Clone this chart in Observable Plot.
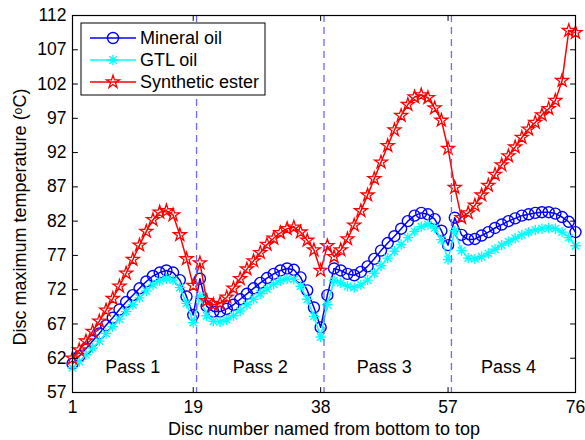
<!DOCTYPE html>
<html><head><meta charset="utf-8">
<script src="https://cdn.jsdelivr.net/npm/d3@7"></script>
<script src="https://cdn.jsdelivr.net/npm/@observablehq/plot@0.6"></script>
<style>body{margin:0;background:#fff} #chart{width:585px;height:440px}</style>
</head><body><div id="chart"></div>
<script>
const discs = d3.range(1, 77);
const mineralOil = [
  61.2, 62.3, 63.4, 64.5, 65.6, 66.8, 67.9, 69.1, 70.2, 71.2, 72.2, 73.2, 74.0, 74.5, 74.8, 74.5, 73.4, 71.0, 68.3,
  73.6, 69.6, 68.8, 68.8, 69.2, 69.8, 70.6, 71.4, 72.2, 73.0, 73.7, 74.3, 74.8, 75.1, 74.9, 73.8, 71.9, 69.4, 66.5,
  71.2, 75.1, 74.8, 74.3, 74.1, 74.6, 75.4, 76.5, 77.7, 78.8, 79.8, 80.9, 82.0, 82.8, 83.2, 83.0, 82.3, 80.6, 78.5,
  82.5, 80.0, 79.3, 79.4, 79.9, 80.4, 81.0, 81.5, 82.0, 82.4, 82.8, 83.0, 83.2, 83.3, 83.3, 83.1, 82.6, 81.9, 80.4
];
const gtlOil = [
  60.6, 61.5, 62.5, 63.5, 64.5, 65.6, 66.6, 67.7, 68.8, 69.8, 70.8, 71.8, 72.7, 73.3, 73.6, 73.4, 72.3, 70.0, 67.2,
  71.0, 68.2, 67.4, 67.3, 67.6, 68.2, 68.9, 69.8, 70.6, 71.4, 72.1, 72.8, 73.3, 73.6, 73.5, 72.5, 70.6, 68.1, 65.1,
  69.8, 73.3, 73.0, 72.5, 72.3, 72.7, 73.4, 74.4, 75.5, 76.6, 77.6, 78.6, 79.6, 80.5, 81.2, 81.5, 81.0, 79.3, 76.4,
  80.6, 77.7, 76.6, 76.5, 76.8, 77.3, 77.9, 78.5, 79.0, 79.5, 80.0, 80.4, 80.7, 80.9, 81.0, 80.9, 80.4, 79.6, 78.4
];
const syntheticEster = [
  62.0, 63.2, 64.5, 65.9, 67.4, 69.0, 70.7, 72.5, 74.4, 76.4, 78.5, 80.5, 82.2, 83.3, 83.5, 82.9, 80.0, 76.5, 72.6,
  75.9, 70.4, 69.8, 70.0, 70.9, 72.2, 73.6, 75.0, 76.2, 77.4, 78.6, 79.5, 80.3, 80.9, 81.1, 80.4, 79.2, 77.8, 74.8,
  78.4, 76.8, 77.8, 79.4, 81.4, 83.5, 85.8, 88.2, 90.6, 93.0, 95.3, 97.4, 99.0, 100.1, 100.4, 100.0, 98.5, 96.7, 92.6,
  86.9, 82.5, 83.2, 84.3, 85.8, 87.2, 88.8, 90.2, 91.5, 92.8, 94.2, 95.4, 96.4, 97.5, 98.4, 99.6, 102.5, 109.8, 109.5
];
const seriesNames = ["Mineral oil", "GTL oil", "Synthetic ester"];
const seriesColors = ["#0000ff", "#00ffff", "#ff0000"];
const passBoundaries = [19.5, 38.5, 57.5];
const passLabels = ["Pass 1", "Pass 2", "Pass 3", "Pass 4"];
const passLabelX = [10, 29, 47.5, 66];
const xTicks = [1, 19, 38, 57, 76];
const yTicks = [57, 62, 67, 72, 77, 82, 87, 92, 97, 102, 107, 112];
const xLabel = "Disc number named from bottom to top";
const yLabel = "Disc maximum temperature (\u1D52C)";

// MATLAB-like marker shapes
const pentagram = {draw(ctx, size) {
  const R = Math.sqrt(size / Math.PI), r = R * 0.382;
  for (let i = 0; i < 10; i++) {
    const a = -Math.PI / 2 + i * Math.PI / 5, rr = i % 2 ? r : R;
    const px = rr * Math.cos(a), py = rr * Math.sin(a);
    if (i) ctx.lineTo(px, py); else ctx.moveTo(px, py);
  }
  ctx.closePath();
}};
const asterisk = {draw(ctx, size) {
  const R = Math.sqrt(size / Math.PI);
  for (let i = 0; i < 4; i++) {
    const a = i * Math.PI / 4;
    ctx.moveTo(R * Math.cos(a), R * Math.sin(a));
    ctx.lineTo(-R * Math.cos(a), -R * Math.sin(a));
  }
}};
const circle = {draw(ctx, size) {
  const R = Math.sqrt(size / Math.PI);
  ctx.moveTo(R, 0); ctx.arc(0, 0, R, 0, 2 * Math.PI);
}};
const symbols = [circle, asterisk, pentagram];
const symbolR = [5.5, 5.2, 6.8];
const symbolW = [1.4, 1.4, 1.3];

const seriesValues = [mineralOil, gtlOil, syntheticEster];
const rows = seriesValues.map((vals, s) => discs.map((d, i) => ({disc: d, value: vals[i], s})));

const tickShape = {draw(ctx, l) { ctx.moveTo(0, 0); ctx.lineTo(0, -l); }};
const font = "'Liberation Sans', Arial, Helvetica, sans-serif";
const fs = 18;

const marks = [];
rows.forEach((r, s) => {
  marks.push(Plot.line(r, {x: "disc", y: "value", stroke: seriesColors[s], strokeWidth: 1.5}));
  marks.push(Plot.dot(r, {x: "disc", y: "value", symbol: symbols[s], r: symbolR[s], stroke: seriesColors[s], fill: "none", strokeWidth: symbolW[s]}));
});
marks.push(Plot.ruleX(passBoundaries, {stroke: "#6a6aff", strokeWidth: 1.3, strokeDasharray: "7,5"}));
marks.push(Plot.frame({stroke: "black", strokeWidth: 1.2}));
const tk = {length: 5, anchor: "start", shape: tickShape, stroke: "black", strokeWidth: 1};
marks.push(Plot.vector(yTicks, {...tk, x: 1, y: d => d, rotate: 90}));
marks.push(Plot.vector(yTicks, {...tk, x: 76, y: d => d, rotate: -90}));
marks.push(Plot.vector(xTicks, {...tk, x: d => d, y: 57, rotate: 0}));
marks.push(Plot.vector(xTicks, {...tk, x: d => d, y: 112, rotate: 180}));
marks.push(Plot.axisX({ticks: xTicks, tickSize: 0, tickPadding: 8, label: null, fontSize: 17.5}));
marks.push(Plot.axisY({ticks: yTicks, tickSize: 0, tickPadding: 6, label: null, fontSize: 17.5}));
marks.push(Plot.text(passLabels, {x: (d, i) => passLabelX[i], frameAnchor: "bottom", dy: -20, fontSize: fs, fill: "black", textAnchor: "middle"}));
marks.push(Plot.text([xLabel], {frameAnchor: "bottom", dy: 42, lineAnchor: "bottom", fontSize: fs, fill: "black", textAnchor: "middle"}));
marks.push(Plot.text([yLabel], {frameAnchor: "left", rotate: -90, dx: -52, dy: 13, fontSize: fs, fill: "black", textAnchor: "middle"}));

const chart = Plot.plot({
  width: 585, height: 440,
  marginLeft: 72, marginRight: 10, marginTop: 15, marginBottom: 48,
  style: {fontFamily: font, fontSize: fs + "px", color: "black", background: "white"},
  x: {domain: [1, 76]},
  y: {domain: [57, 112]},
  marks
});
document.getElementById("chart").appendChild(chart);

// legend inside the axes (top-left)
const svg = d3.select(chart);
const lg = svg.append("g").attr("font-family", font).attr("font-size", fs).attr("text-anchor", "start");
lg.append("rect").attr("x", 81).attr("y", 23).attr("width", 184).attr("height", 72)
  .attr("fill", "white").attr("stroke", "black").attr("stroke-width", 1);
seriesNames.forEach((name, s) => {
  const cy = 38 + s * 22;
  lg.append("line").attr("x1", 90).attr("x2", 136).attr("y1", cy).attr("y2", cy)
    .attr("stroke", seriesColors[s]).attr("stroke-width", 1.5);
  lg.append("path").attr("transform", `translate(113,${cy})`)
    .attr("d", d3.symbol(symbols[s], Math.PI * symbolR[s] * symbolR[s])())
    .attr("fill", "none").attr("stroke", seriesColors[s]).attr("stroke-width", symbolW[s]);
  lg.append("text").attr("x", 140).attr("y", cy).attr("dy", "0.35em").attr("fill", "black")
    .attr("text-anchor", "start").text(name);
});
</script>
</body></html>
